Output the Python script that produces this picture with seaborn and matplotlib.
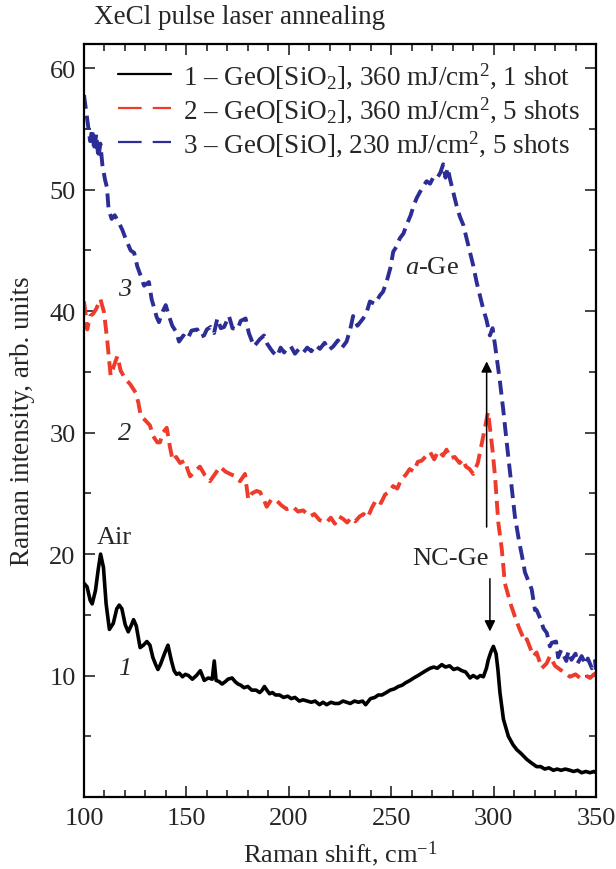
import numpy as np
import pandas as pd
import matplotlib
matplotlib.use("Agg")
import matplotlib.pyplot as plt
import seaborn as sns
from matplotlib.ticker import MultipleLocator

sns.set_style("ticks")
plt.rcParams.update({
    "font.family": ["Liberation Serif", "DejaVu Serif"],
    "mathtext.fontset": "custom",
    "mathtext.rm": "Liberation Serif",
    "mathtext.it": "Liberation Serif:italic",
    "lines.scale_dashes": False,
})

# curve 1 - GeO[SiO2], 360 mJ/cm2, 1 shot
shift_1 = [100, 101.5, 103, 104, 105.6, 107, 108.1, 109.5, 110.8, 112.4, 114.3, 116, 117.2, 118.5,
           120.1, 121.6, 123, 124.2, 125.5, 127.4, 129, 130.7, 132.2, 133.6, 135, 136.1, 137.3,
           138.4, 140, 141, 142.7, 144, 145.2, 146.5, 148.1, 149.5, 151, 152.9, 154.9, 156.8,
           158.7, 160.7, 162.6, 163.6, 164.5, 166, 167.4, 169, 170.3, 172.3, 173.8, 175.2, 176.6,
           178.1, 180, 181.9, 184, 185.8, 187, 188.1, 189.3, 190.6, 192, 193.5, 195.5, 197.4,
           199.5, 201.2, 203, 205.1, 207, 209, 211, 212.8, 215, 216.7, 218.5, 220.6, 222.5, 224.4,
           226.5, 228.3, 230, 232.1, 234, 236, 237.5, 239.9, 242, 243.7, 245.5, 247.6, 249.5,
           251.5, 253.5, 255.3, 257, 259.2, 261, 263.1, 265, 266.9, 269, 270.8, 272.5, 274.7,
           276.5, 278.5, 280.5, 282.4, 284.5, 286.3, 288.5, 290, 292, 293.5, 295, 296.5, 297.4,
           298.8, 299.9, 301.2, 302.1, 303.1, 304.8, 307.2, 309.5, 311.3, 313.3, 316.2, 318.5,
           321, 323, 325, 327, 329.2, 331, 333, 335, 337.3, 339, 341, 343, 345, 347.1, 349, 350]
int_1 = [17.6, 17.3, 16.2, 15.9, 17.0, 18.8, 20.0, 18.9, 15.9, 13.8, 14.3, 15.5, 15.8, 15.5,
         14.2, 13.6, 14.1, 14.6, 14.1, 12.3, 12.5, 12.8, 12.5, 11.5, 10.9, 10.5, 10.9,
         11.4, 12.1, 12.5, 11.2, 10.4, 10.1, 10.2, 9.9, 10.1, 10.0, 9.7, 10.0, 10.4,
         9.6, 9.8, 9.7, 11.2, 9.6, 9.5, 9.3, 9.5, 9.7, 9.8, 9.5, 9.3, 9.2,
         9.0, 9.1, 8.8, 8.8, 8.6, 8.8, 9.1, 8.8, 8.5, 8.6, 8.4, 8.4, 8.2,
         8.3, 8.1, 8.2, 7.9, 8.0, 7.9, 7.8, 7.9, 7.6, 7.8, 7.6, 7.8, 7.7, 7.7,
         7.9, 7.8, 7.7, 7.9, 7.8, 7.9, 7.6, 8.1, 8.2, 8.4, 8.4, 8.6, 8.8,
         8.9, 9.1, 9.2, 9.4, 9.6, 9.8, 10.0, 10.2, 10.4, 10.6, 10.7, 10.6, 10.9,
         10.7, 10.8, 10.5, 10.6, 10.4, 10.3, 9.8, 10.0, 9.8, 10.0, 9.9, 10.6, 11.3,
         12.0, 12.4, 11.8, 10.5, 8.6, 6.4, 5.0, 4.3, 3.9, 3.6, 3.1, 2.8,
         2.5, 2.5, 2.3, 2.4, 2.2, 2.3, 2.2, 2.3, 2.2, 2.1, 2.2, 2.0, 2.1, 2.0, 2.1, 2.0]

# curve 2 - GeO[SiO2], 360 mJ/cm2, 5 shots
shift_2 = [100, 101, 101.6, 103, 104.5, 106, 108, 109.8, 111.4, 113, 114.6, 116.3, 117.9, 120.3,
           122.5, 125.2, 126.5, 127.7, 130, 132.2, 133.8, 135.8, 137.1, 138.5, 140.4, 142, 143.3,
           145, 146.9, 149.3, 150.5, 151.8, 154, 156.6, 159, 161.5, 164, 166.4, 169, 171.3, 174,
           176.2, 178.6, 180.2, 182, 184.3, 186, 187.5, 189.2, 191.5, 194.1, 196.5, 199, 202.1,
           204.5, 207, 210.3, 212.5, 215, 218.4, 220.5, 222.5, 224.5, 226.5, 228.5, 230.5, 232.5,
           234.6, 236.5, 238.5, 240.5, 242.8, 245, 247, 249, 250.9, 253, 255, 257, 259, 261, 263,
           265, 267.1, 269, 271, 273, 275.3, 277, 279, 281, 283.4, 285, 286.5, 288.3, 290, 292.3,
           294.7, 296, 297.3, 298.5, 299.5, 300.7, 302.3, 304, 305.5, 308.5, 310.5, 312.5, 315.3,
           316.2, 319.4, 321, 323.5, 325.9, 327.5, 330, 332.4, 335, 337.3, 340, 342.2, 345, 347.1,
           349, 350]
int_2 = [40.8, 39.5, 38.5, 39.6, 39.8, 40.2, 41.0, 39.9, 37.5, 34.7, 35.5, 36.3, 35.1, 34.4,
         34.0, 33.3, 32.5, 31.4, 31.0, 30.6, 29.7, 29.2, 29.2, 30.0, 30.4, 28.8, 27.7,
         28.0, 27.5, 27.7, 27.0, 26.4, 26.8, 27.2, 26.5, 26.0, 26.6, 27.2, 26.8, 26.6, 26.4,
         26.0, 26.6, 24.5, 25.0, 25.2, 25.1, 24.6, 23.9, 24.5, 24.4, 24.0, 23.7, 23.9,
         23.5, 23.6, 23.1, 23.3, 22.8, 22.6, 23.0, 22.5, 23.1, 22.9, 22.6, 23.0, 22.7,
         23.1, 23.3, 23.0, 23.8, 24.5, 24.2, 24.9, 25.1, 25.6, 25.4, 26.2, 26.5, 27.0, 26.8, 27.6,
         27.7, 28.1, 28.4, 27.8, 28.5, 28.1, 28.6, 27.9, 28.0, 27.5, 27.8, 27.2, 27.0, 26.6, 27.5,
         29.5, 30.6, 31.7, 30.0, 28.5, 26.4, 22.6, 20.4, 17.6, 15.8, 14.8, 13.9, 12.8,
         13.0, 11.6, 11.9, 10.6, 11.0, 11.6, 10.8, 10.5, 10.2, 9.9, 10.1, 9.8, 10.0, 9.8,
         10.1, 10.2]

# curve 3 - GeO[SiO], 230 mJ/cm2, 5 shots
shift_3 = [100, 100.8, 101.6, 103, 104, 105, 106, 107, 108, 109, 110.3, 111.2, 112, 113.5, 115,
           117, 118.7, 120.5, 122.8, 124.5, 126, 127.5, 129.3, 131.7, 133, 134.2, 135.5, 136.6,
           138.5, 139.9, 141.5, 143.1, 145, 146.4, 148.5, 150.5, 152.5, 155.3, 157, 158.6, 160,
           161.8, 163.5, 165.1, 166.8, 168.4, 170.8, 172.5, 174.9, 176.5, 178.9, 180.5, 183,
           185.9, 187.9, 189.5, 191.1, 192.4, 194.4, 196, 197.7, 198.9, 201, 203, 205, 207.1,
           209, 211, 213, 215.2, 217.5, 219.5, 221.7, 224, 226, 228.2, 230, 231.4, 233.5, 236.3,
           238, 239.6, 242, 244.5, 246, 247.7, 249.5, 251, 252.5, 254.2, 256, 257.5, 259.5, 261,
           262.4, 264, 265.7, 267.3, 269, 270.5, 272.2, 274, 275.4, 276.5, 277.6, 278.7, 280.3,
           281.9, 283.5, 285.2, 286.8, 288.4, 290, 291.7, 293.3, 294.9, 296.5, 298.2, 299.5,
           300.7, 303.1, 304.7, 306.4, 308.5, 310.4, 312.5, 314.5, 315.3, 318.6, 320.2, 321,
           323, 324.3, 326, 327.5, 328.4, 330.5, 331.5, 333, 335.5, 336.5, 338, 340, 341, 343,
           345, 346, 348, 349.5, 350]
int_3 = [57.8, 56.8, 55.8, 54.0, 55.0, 53.2, 54.6, 52.6, 53.8, 52.0, 50.8, 50.2, 48.4, 47.6, 47.9,
         47.3, 46.7, 45.9, 45.0, 44.8, 43.7, 43.0, 42.1, 42.4, 41.0, 40.3, 39.5, 39.1,
         40.0, 40.5, 39.6, 38.8, 38.3, 37.5, 38.0, 37.7, 38.4, 38.5, 37.9, 38.0, 38.5,
         38.7, 38.2, 39.4, 38.6, 38.7, 39.6, 38.6, 38.5, 39.2, 39.4, 38.2, 37.1,
         37.7, 38.0, 37.3, 36.9, 36.6, 36.3, 37.0, 36.6, 36.9, 37.1, 36.5, 36.9, 36.6,
         37.0, 36.7, 37.2, 36.9, 37.4, 36.8, 37.1, 37.6, 37.0, 37.5, 38.5, 39.6, 38.8, 39.4,
         39.9, 40.8, 40.6, 41.3, 41.6, 42.4, 43.5, 44.9, 45.3, 46.0, 46.4, 47.1, 47.9, 48.7,
         49.3, 49.8, 50.3, 50.7, 50.5, 51.0, 50.9, 51.4, 52.1, 51.0, 51.8, 50.9, 49.8,
         48.7, 47.8, 47.1, 46.0, 44.9, 43.8, 42.4, 41.3, 40.2, 39.3, 38.0, 38.6,
         37.2, 34.2, 31.9, 29.2, 26.0, 23.1, 21.0, 19.3, 18.5, 17.1, 15.4, 15.4,
         14.6, 13.9, 13.5, 12.4, 12.7, 12.8, 11.5, 12.1, 11.2, 12.0, 11.3, 11.8, 11.0, 11.6,
         10.9, 11.4, 10.6, 11.2, 10.5]

labels = [r"$\mathit{1}$ – GeO[SiO$_2$], 360 mJ/cm$^2$, 1 shot",
          r"$\mathit{2}$ – GeO[SiO$_2$], 360 mJ/cm$^2$, 5 shots",
          r"$\mathit{3}$ – GeO[SiO], 230 mJ/cm$^2$, 5 shots"]

FS = 19

fig = plt.figure(figsize=(6.16, 8.7), dpi=100)
ax = fig.add_axes([84 / 616, 1 - 798 / 870, 512 / 616, 753 / 870])

sns.lineplot(x=shift_1, y=int_1, ax=ax, color="black", lw=2.6, label=labels[0],
             estimator=None, sort=False)
sns.lineplot(x=shift_2, y=int_2, ax=ax, color="#ee3b2b", lw=2.8, label=labels[1],
             estimator=None, sort=False, linestyle=(0, (10, 5)))
sns.lineplot(x=shift_3, y=int_3, ax=ax, color="#2c2e96", lw=2.8, label=labels[2],
             estimator=None, sort=False, linestyle=(0, (10, 5)))

ax.set_xlim(100, 350)
ax.set_ylim(0, 62)
ax.xaxis.set_major_locator(MultipleLocator(50))
ax.xaxis.set_minor_locator(MultipleLocator(10))
ax.yaxis.set_minor_locator(MultipleLocator(5))
ax.set_yticks([10, 20, 30, 40, 50, 60])
ax.tick_params(which="both", direction="in", top=True, right=True, width=1.2, labelsize=FS)
ax.tick_params(which="major", length=8)
ax.tick_params(which="minor", length=5)
ax.tick_params(axis="x", pad=7)
ax.tick_params(axis="y", pad=6)
for s in ax.spines.values():
    s.set_linewidth(1.6)
    s.set_color("black")

ax.set_xlabel(r"Raman shift, cm$^{-1}$", fontsize=FS, labelpad=7)
ax.set_ylabel("Raman intensity, arb. units", fontsize=FS + 0.5, labelpad=10)

leg = ax.legend(loc="upper left", bbox_to_anchor=(0.035, 1.0), frameon=False, fontsize=FS + 0.5,
                handlelength=1.95, handletextpad=0.45, labelspacing=0.16, borderaxespad=0.2)
for h in leg.get_lines():
    h.set_linewidth(1.6)
for h in leg.get_lines()[1:]:
    h.set_dashes([17, 8])

fig.text(94 / 616, 1 - 18 / 870, "XeCl pulse laser annealing", fontsize=FS + 0.5,
         ha="left", va="center")

ax.text(114.6, 21.4, "Air", fontsize=FS, ha="center", va="center")
ax.text(120, 10.6, "1", fontsize=FS, style="italic", ha="center", va="center")
ax.text(119.8, 30.0, "2", fontsize=FS, style="italic", ha="center", va="center")
ax.text(119.8, 41.8, "3", fontsize=FS, style="italic", ha="center", va="center")
ax.text(270, 43.6, r"$\mathit{a}$-Ge", fontsize=FS, ha="center", va="center")
ax.text(278.7, 19.7, "NC-Ge", fontsize=FS, ha="center", va="center")

ax.annotate("", xy=(296.6, 36.1), xytext=(296.6, 22.0),
            arrowprops=dict(arrowstyle="-|>", lw=1.1, color="black", mutation_scale=16))
ax.annotate("", xy=(298.2, 13.4), xytext=(298.2, 18.2),
            arrowprops=dict(arrowstyle="-|>", lw=1.1, color="black", mutation_scale=16))

fig.savefig("out.png", dpi=100)
